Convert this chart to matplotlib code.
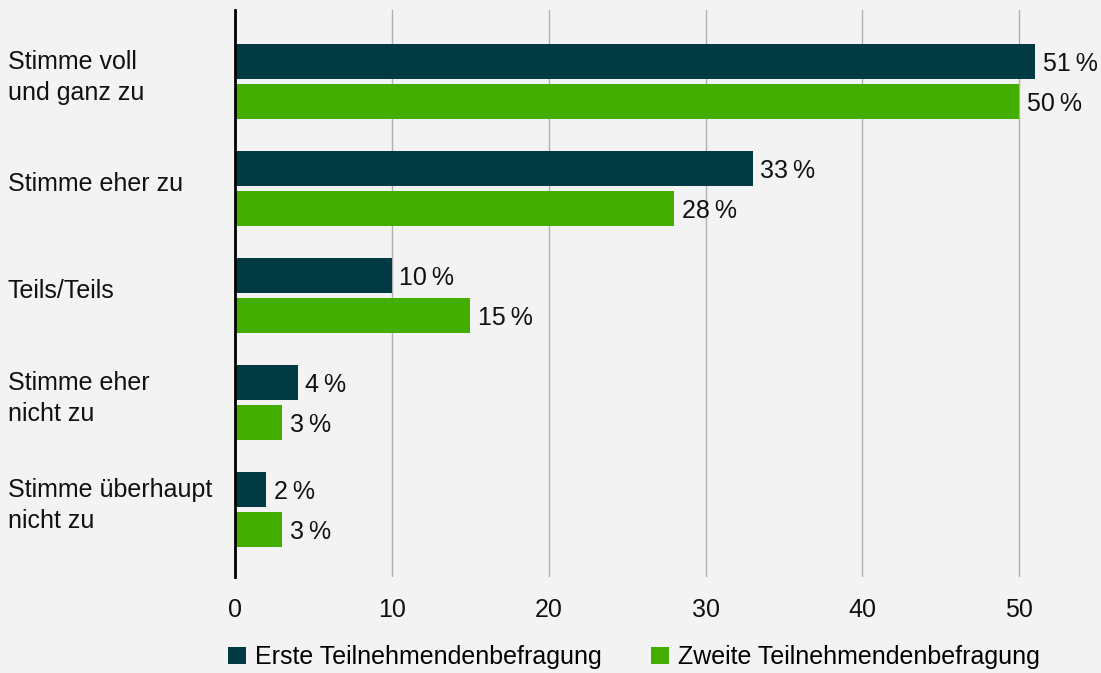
import matplotlib.pyplot as plt
import numpy as np

# Data
categories = ["Stimme voll\nund ganz zu", "Stimme eher zu", "Teils/Teils",
              "Stimme eher\nnicht zu", "Stimme überhaupt\nnicht zu"]
erste = [51, 33, 10, 4, 2]
zweite = [50, 28, 15, 3, 3]
series_names = ["Erste Teilnehmendenbefragung", "Zweite Teilnehmendenbefragung"]
xticks = [0, 10, 20, 30, 40, 50]

dark = "#023a43"
green = "#43ae00"
bg = "#f3f3f3"

plt.rcParams['font.family'] = ['Liberation Sans', 'DejaVu Sans']
fs = 18

fig = plt.figure(figsize=(11.01, 6.73), dpi=100, facecolor=bg)
ax = fig.add_axes([235 / 1101, 1 - 577 / 673, (1060 - 235) / 1101, (577 - 10) / 673])
ax.set_facecolor(bg)

y = np.arange(len(categories))
h = 35 / 107
off = 20 / 107

b1 = ax.barh(y - off, erste, height=h, color=dark, label=series_names[0], zorder=3)
b2 = ax.barh(y + off, zweite, height=h, color=green, label=series_names[1], zorder=3)

# value labels
for bars, vals in ((b1, erste), (b2, zweite)):
    for bar, v in zip(bars, vals):
        ax.annotate(f"{v}\u2009%", (v, bar.get_y() + bar.get_height() / 2),
                    xytext=(5.5, -1.5), textcoords="offset points",
                    va="center", ha="left", fontsize=fs, color="#111111")

ax.set_xlim(0, 52.6)
ax.set_ylim(len(categories) - 1 + 0.631, -0.668)

ax.set_xticks(xticks)
ax.set_xticklabels([str(t) for t in xticks], fontsize=fs, color="#111111")
ax.tick_params(axis="x", length=0, pad=15)
ax.set_yticks([])
ax.grid(axis="x", color="#b0b0b0", linewidth=1, zorder=0)
for s in ("top", "right", "bottom"):
    ax.spines[s].set_visible(False)
ax.spines["left"].set_color("black")
ax.spines["left"].set_linewidth(2)
ax.spines["left"].set_zorder(4)

# category labels on the left
for i, cat in enumerate(categories):
    yc = ax.transData.transform((0, i))[1]
    yf = fig.transFigure.inverted().transform((0, yc))[1]
    fig.text(8 / 1101, yf + 4 / 673, cat, ha="left", va="center",
             fontsize=fs, color="#111111", linespacing=1.35)

fig.legend(handles=[b1, b2], labels=series_names, loc="center",
           bbox_to_anchor=(634 / 1101, 1 - 657 / 673), ncol=2, frameon=False,
           fontsize=fs, handlelength=0.7, handleheight=0.7, handletextpad=0.35,
           columnspacing=2.0)

fig.savefig("out.png", dpi=100, facecolor=bg)
